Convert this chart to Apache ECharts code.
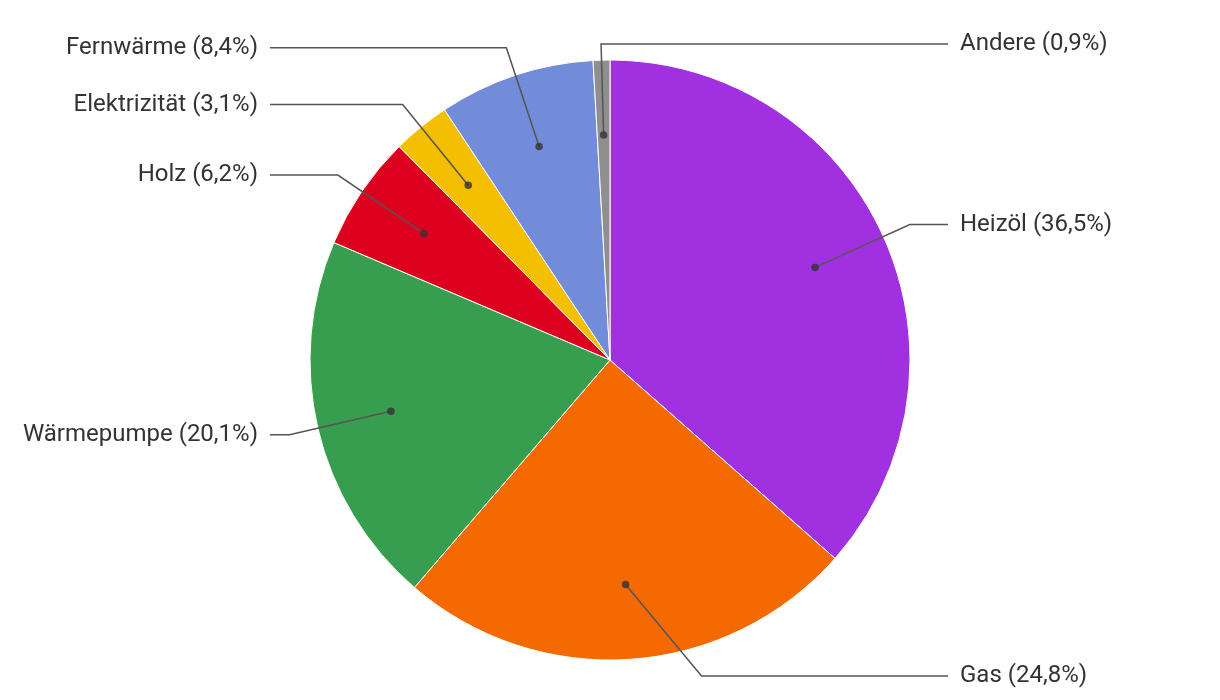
<!DOCTYPE html>
<html>
<head>
<meta charset="utf-8">
<script src="https://cdn.jsdelivr.net/npm/echarts@6/dist/echarts.min.js"></script>
<style>
html,body{margin:0;padding:0;background:#fff;}
#chart{width:1220px;height:700px;}
</style>
</head>
<body>
<div id="chart"></div>
<script>
// ---- data ----
const categories = ['Heizöl', 'Gas', 'Wärmepumpe', 'Holz', 'Elektrizität', 'Fernwärme', 'Andere'];
const shares = [36.5, 24.8, 20.1, 6.2, 3.1, 8.4, 0.9];
const colors = ['#a131e0', '#f46a00', '#389e4f', '#dc001e', '#f4bf00', '#728cd9', '#8f8f8f'];

// ---- layout constants (not data) ----
const CX = 610, CY = 360;
const RIGHT_TEXT_X = 960, LEFT_TEXT_X = 258, LABEL_GAP = 12;
const Y_MIN = 44, Y_MAX = 676;

const pieData = categories.map((c, i) => ({ name: c, value: shares[i], itemStyle: { color: colors[i] } }));
const total = shares.reduce((a, b) => a + b, 0);
let acc = 0;
const dotData = shares.map(v => { const mid = acc + v / 2; acc += v; return [75, mid / total * 100]; });

const fmt = p => p.name + ' (' + p.value.toFixed(1).replace('.', ',') + '%)';

function layoutLabel(params) {
  const pts = params.labelLinePoints;
  if (!pts) return {};
  const p0 = pts[0], p1 = pts[1];
  let x1 = p1[0], y = p1[1];
  const right = x1 >= CX - 10;
  if (y > Y_MAX) {
    const R = Math.hypot(p1[0] - CX, p1[1] - CY);
    const dy = Y_MAX - CY;
    const dx = Math.sqrt(Math.max(R * R - dy * dy, 0));
    x1 = CX + (right ? dx : -dx);
    y = Y_MAX;
  } else if (y < Y_MIN) {
    const t = (Y_MIN - p0[1]) / (p1[1] - p0[1]);
    x1 = p0[0] + t * (p1[0] - p0[0]);
    y = Y_MIN;
  }
  const endX = right ? RIGHT_TEXT_X - LABEL_GAP : LEFT_TEXT_X + LABEL_GAP;
  return {
    x: right ? RIGHT_TEXT_X : LEFT_TEXT_X,
    y: y,
    align: right ? 'left' : 'right',
    verticalAlign: 'middle',
    labelLinePoints: [p0, [x1, y], [endX, y]]
  };
}

const chart = echarts.init(document.getElementById('chart'), null, { renderer: 'canvas' });
chart.setOption({
  animation: false,
  backgroundColor: '#fff',
  textStyle: { fontFamily: 'Roboto' },
  polar: { center: [CX, CY], radius: [0, 300] },
  angleAxis: { type: 'value', min: 0, max: 100, startAngle: 90, clockwise: true, show: false },
  radiusAxis: { type: 'value', min: 0, max: 100, show: false },
  series: [
    {
      type: 'pie',
      center: [CX, CY],
      radius: [0, 300],
      startAngle: 90,
      clockwise: true,
      silent: true,
      label: { show: false },
      labelLine: { show: false },
      itemStyle: { borderColor: '#fff', borderWidth: 1 },
      emphasis: { disabled: true },
      data: pieData
    },
    {
      type: 'pie',
      center: [CX, CY],
      radius: [0, 225],
      startAngle: 90,
      clockwise: true,
      silent: true,
      avoidLabelOverlap: false,
      z: 3,
      itemStyle: { color: 'rgba(0,0,0,0)', borderWidth: 0 },
      emphasis: { disabled: true },
      label: {
        show: true,
        position: 'outside',
        formatter: fmt,
        color: '#333',
        fontSize: 24,
        fontFamily: 'Roboto'
      },
      labelLine: {
        show: true,
        length: 104,
        length2: 38,
        smooth: false,
        lineStyle: { color: '#555', width: 1.5 }
      },
      labelLayout: layoutLabel,
      data: categories.map((c, i) => ({ name: c, value: shares[i] }))
    },
    {
      type: 'scatter',
      coordinateSystem: 'polar',
      symbol: 'circle',
      symbolSize: 7.5,
      silent: true,
      z: 5,
      itemStyle: { color: '#333' },
      data: dotData
    }
  ]
});
</script>
</body>
</html>
